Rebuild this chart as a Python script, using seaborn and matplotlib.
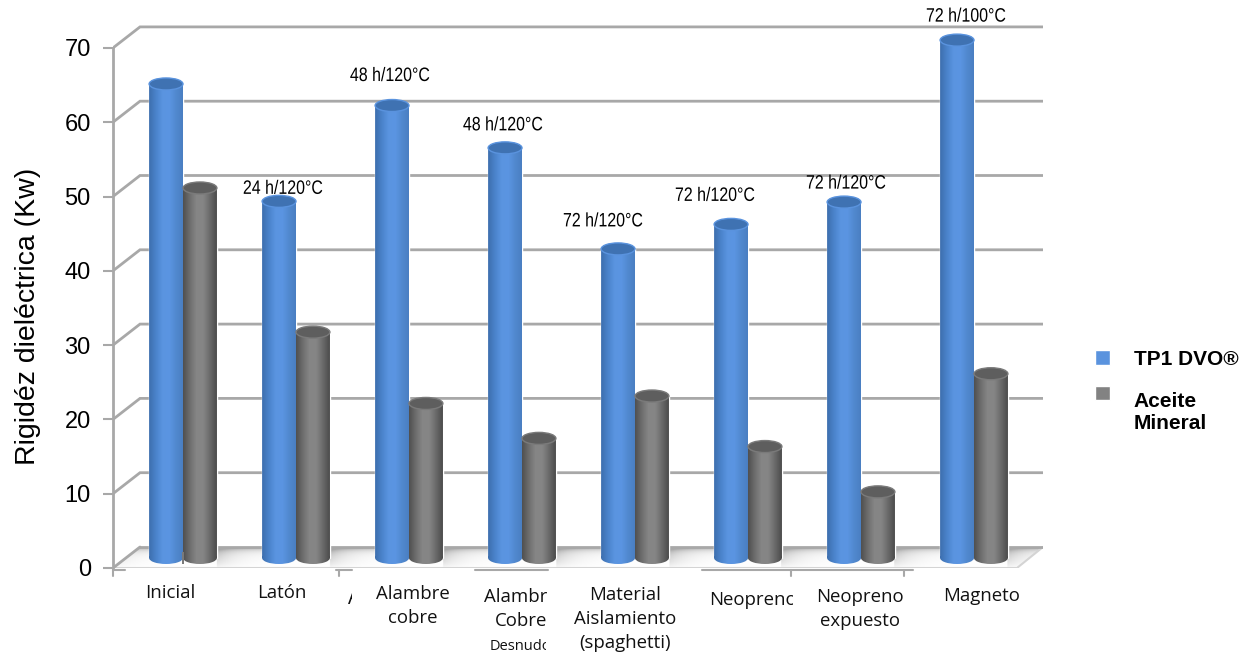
import matplotlib
matplotlib.use('Agg')
import matplotlib.pyplot as plt
import numpy as np
import pandas as pd
import seaborn as sns
from matplotlib.colors import LinearSegmentedColormap
from matplotlib.patches import Ellipse, PathPatch, Polygon
from matplotlib.patheffects import AbstractPathEffect
from matplotlib.path import Path
from matplotlib.transforms import Bbox, Affine2D

categories = ['Inicial', 'Latón', 'Alambre\ncobre', 'Alambre\nCobre',
              'Material\nAislamiento\n(spaghetti)', 'Neopreno', 'Neopreno\nexpuesto', 'Magneto']
tp1_dvo = [63.8, 48.0, 60.9, 55.2, 41.6, 44.9, 47.9, 69.7]
aceite = [49.8, 30.4, 20.8, 16.1, 21.8, 15.0, 8.9, 24.8]
conditions = ['', '24 h/120°C', '48 h/120°C', '48 h/120°C', '72 h/120°C', '72 h/120°C', '72 h/120°C', '72 h/100°C']
series_names = ['TP1 DVO®', 'Aceite\nMineral']
y_ticks = [0, 10, 20, 30, 40, 50, 60, 70]

W, H = 1256, 660
AX_L, AX_R, AX_T, AX_B = 113, 1043, 10, 568
PX_X = 113.0    # pixels per category
PX_Y = 7.43     # pixels per kV
GREY = '#a8a8a8'


class Squeeze(AbstractPathEffect):
    # no condensed font installed, so narrow the glyphs around the text centre
    def __init__(self, cx, sx):
        super().__init__()
        self.cx, self.sx = cx, sx

    def draw_path(self, renderer, gc, tpath, affine, rgbFace=None):
        squeeze = Affine2D().translate(-self.cx, 0).scale(self.sx, 1).translate(self.cx, 0)
        renderer.draw_path(gc, tpath, affine + squeeze, rgbFace)


sns.set_theme(style='white')
plt.rcParams['font.family'] = ['Liberation Sans', 'DejaVu Sans']

fig = plt.figure(figsize=(W / 100, H / 100), dpi=100)
ax = fig.add_axes([AX_L / W, 1 - AX_B / H, (AX_R - AX_L) / W, (AX_B - AX_T) / H])

df = pd.DataFrame({
    'material': categories * 2,
    'serie': [series_names[0]] * 8 + [series_names[1]] * 8,
    'rigidez': tp1_dvo + aceite,
})
sns.barplot(data=df, x='material', y='rigidez', hue='serie', width=0.6, gap=0, saturation=1,
            palette=['#5a93de', '#828282'], ax=ax, zorder=5)
bars = list(ax.patches)

x0 = (AX_L - 183) / PX_X
x1 = x0 + (AX_R - AX_L) / PX_X
y_top = (AX_B - AX_T) / PX_Y
ax.set_xlim(x0, x1)
ax.set_ylim(0, y_top)
ax.set_autoscale_on(False)

# fake 3d box
dx = 27 / PX_X
dy = 21 / PX_Y
for t in y_ticks[1:]:
    ax.plot([x0, x0 + dx, x1], [t, t + dy, t + dy], color=GREY, lw=2, zorder=1, solid_joinstyle='miter')

floor_x_r = x0 + 904 / PX_X
floor = Polygon([(x0, 0), (floor_x_r, 0), (x1, dy), (x0 + dx, dy)], closed=True, transform=ax.transData,
                facecolor='none', edgecolor='none')
ax.add_patch(floor)
# floor shading: dark along the back wall plus a shadow trailing right of each bar pair
floor_cmap = LinearSegmentedColormap.from_list('floor', ['#ffffff', '#a8a8a8'])
fx = np.linspace(x0, x1, 600)
depth = np.linspace(0, 1, 40)
trail = np.mod(fx - 0.3, 1.0)
shade = np.exp(-depth[:, None] * 7) + 0.7 * np.exp(-trail[None, :] * 6) * (1 - depth[:, None]) ** 0.6
im = ax.imshow(np.clip(shade, 0, 1), extent=(x0, x1, 0, dy), aspect='auto', cmap=floor_cmap, vmin=0, vmax=1,
               origin='upper', zorder=2)
im.set_clip_path(floor)
ax.plot([x0, floor_x_r, x1], [0, 0, dy], color='#d4d4d4', lw=1.5, zorder=3)
ax.plot([x0, x0 + dx], [0, dy], color=GREY, lw=2, zorder=3)
ax.plot([x0 + dx, x1], [dy, dy], color=GREY, lw=2, zorder=3)

# front axis line only survives in pieces in the original
low = -2 / PX_Y
for a, b in [(113, 125), (336, 352), (475, 548), (702, 913)]:
    ax.plot([(a - 183) / PX_X, (b - 183) / PX_X], [low, low], color=GREY, lw=1.5, clip_on=False, zorder=3)
for k in [0, 2, 6, 7]:
    ax.plot([x0 + k, x0 + k], [low, low - 6 / PX_Y], color=GREY, lw=1.5, clip_on=False, zorder=3)

# cylinders on top of the seaborn bars
blue_cmap = LinearSegmentedColormap.from_list('b', ['#3d6fae', '#4a83cb', '#5a94e0', '#5b95e2', '#5189cf', '#4a7fc2'])
grey_cmap = LinearSegmentedColormap.from_list('g', ['#505050', '#6e6e6e', '#868686', '#858585', '#6a6a6a', '#4c4c4c'])
base = 10 / PX_Y
ell_h = 12 / PX_Y
for n, bar in enumerate(bars):
    is_blue = n < len(categories)
    x, w, h = bar.get_x(), bar.get_width(), bar.get_height()
    bar.set_y(base)
    top = base + h
    body = Path.make_compound_path(
        Path.unit_rectangle().transformed(Affine2D().scale(w, h).translate(x, base)),
        Path.unit_circle().transformed(Affine2D().scale(w / 2, ell_h / 2).translate(x + w / 2, base)),
    )
    clip = PathPatch(body, transform=ax.transData, facecolor='none', edgecolor='none')
    ax.add_patch(clip)
    im = ax.imshow(np.linspace(0, 1, 64).reshape(1, -1), extent=(x, x + w, base - ell_h, top), aspect='auto',
                   cmap=blue_cmap if is_blue else grey_cmap, zorder=6 + n * 0.01)
    im.set_clip_path(clip)
    ax.add_patch(Ellipse((x + w / 2, top), w, ell_h, facecolor='#3f72b2' if is_blue else '#5e5e5e',
                         edgecolor='#5a93de' if is_blue else '#7a7a7a', lw=1, zorder=6.5 + n * 0.01))

# axis dressing
sns.despine(ax=ax, top=True, right=True, bottom=True)
ax.spines['left'].set_color(GREY)
ax.spines['left'].set_linewidth(2)
ax.spines['left'].set_bounds(0, 70)
ax.set_yticks(y_ticks)
ax.tick_params(axis='y', length=7, width=1.5, color=GREY, labelsize=17, labelcolor='black', pad=9, left=True)
ax.set_xticks([])
ax.set_xlabel('')
ax.set_ylabel('Rigidéz dieléctrica (Kw)', fontsize=20.5, color='black')
ax.yaxis.set_label_coords((41 - AX_L) / (AX_R - AX_L), (AX_B - 316) / (AX_B - AX_T))

# category labels were pasted text boxes, so each has its own offset
label_offsets = [(-13, -25), (-14, -25), (4, -38), (-1, -41), (-10, -51), (5, -32), (-1, -41), (8, -28)]
clips = {3: 548, 5: 793}
label_font = ['Open Sans', 'DejaVu Sans']
for i, (name, off) in enumerate(zip(categories, label_offsets)):
    a = ax.annotate(name, (i, 0), xytext=off, textcoords='offset pixels', ha='center', va='center', fontsize=13.4,
                    family=label_font, color='#111111', linespacing=1.42, zorder=10)
    if i in clips:
        a.set_clip_box(Bbox([[0, 0], [clips[i], H]]))
        a.set_clip_on(True)

small = ax.annotate('Desnudo', (3, 0), xytext=(-2, -78), textcoords='offset pixels', ha='center', va='center',
                    fontsize=10.5, family=label_font, color='#111111')
small.set_clip_box(Bbox([[0, 0], [546, H]]))
small.set_clip_on(True)
stray = ax.annotate('A', (2, 0), xytext=(-54, -31), textcoords='offset pixels', ha='center', va='center',
                    fontsize=15, family=label_font, color='#111111')
stray.set_clip_box(Bbox([[0, 0], [352, H]]))
stray.set_clip_on(True)

# treatment conditions above the blue bars
cond_offsets = [(0, 0), (4, 12), (-2, 29), (-2, 22), (-15, 27), (-16, 28), (2, 18), (9, 23)]
for i, (txt, off) in enumerate(zip(conditions, cond_offsets)):
    if txt:
        xy = (i - 0.15, base + tp1_dvo[i])
        cx = ax.transData.transform(xy)[0] + off[0]
        ax.annotate(txt, xy, xytext=off, textcoords='offset pixels', ha='center', va='center', fontsize=14,
                    family='Liberation Sans', color='black', zorder=10, annotation_clip=False,
                    path_effects=[Squeeze(cx, 0.82)])

sns.move_legend(ax, 'upper left', bbox_to_anchor=(1076 / W, 1 - 331 / H), bbox_transform=fig.transFigure,
                frameon=False, title=None, handlelength=0.72, handleheight=0.72, handletextpad=1.15,
                labelspacing=1.1, labelcolor='black', prop={'family': 'Liberation Sans', 'weight': 'bold', 'size': 15})
# the square of the two-line entry sits level with its first line
second = ax.get_legend().legend_handles[1]
second.set_y(second.get_y() + 14)

fig.savefig('out.png', dpi=100, facecolor='white')
